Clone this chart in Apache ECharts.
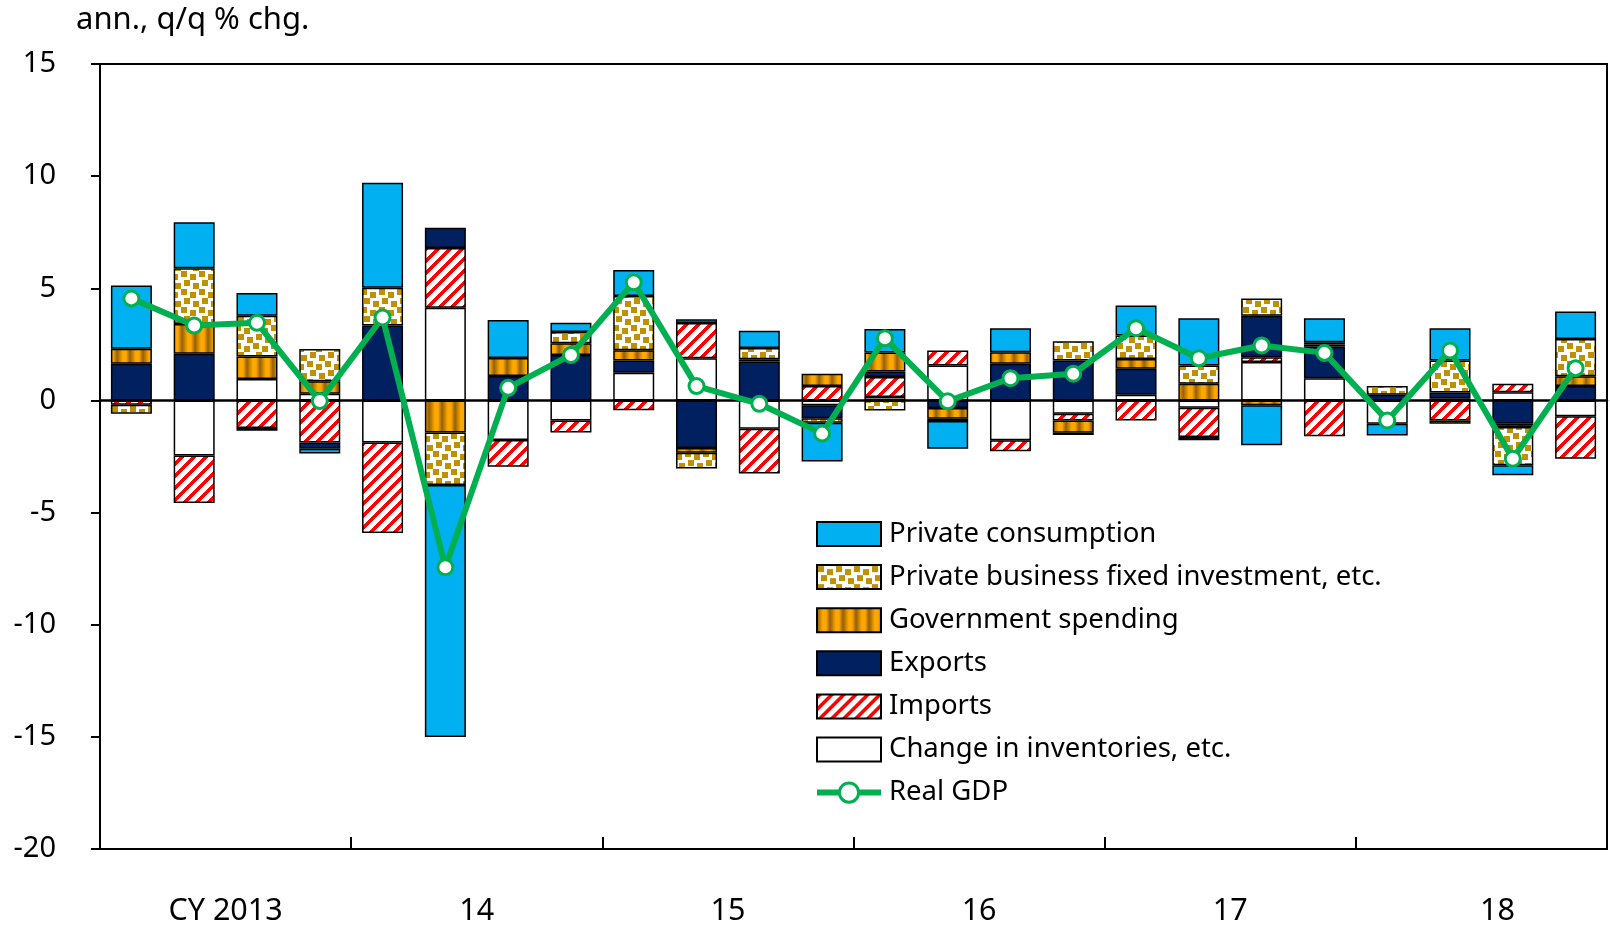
<!DOCTYPE html>
<html>
<head>
    <meta charset="utf-8">
    <title>Real GDP contributions</title>
    <script src="https://cdn.jsdelivr.net/npm/echarts@6/dist/echarts.min.js"></script>
    <style>
        html, body { margin: 0; padding: 0; background: #fff; }
    </style>
</head>
<body>
    <div id="main" style="width: 1610px;height:927px;"></div>
    <script type="text/javascript">
        // quarters, CY2013 Q1 .. CY2018 Q4
        var quarters = ['13Q1', '13Q2', '13Q3', '13Q4', '14Q1', '14Q2', '14Q3', '14Q4',
            '15Q1', '15Q2', '15Q3', '15Q4', '16Q1', '16Q2', '16Q3', '16Q4',
            '17Q1', '17Q2', '17Q3', '17Q4', '18Q1', '18Q2', '18Q3', '18Q4'];
        var yearLabels = ['CY 2013', '14', '15', '16', '17', '18'];

        // contributions, % points (annualized q/q)
        var inventories = [0, -2.45, 0.96, 0.3, -1.88, 4.13, -1.76, -0.89, 1.23, 1.88, -1.26, -0.22,
            0.15, 1.56, -1.78, -0.59, 0.25, -0.33, 1.71, 0.99, -1.04, 0.1, 0.37, -0.7];
        var imports = [-0.19, -2.12, -1.23, -1.88, -4.03, 2.67, -1.2, -0.54, -0.44, 1.57, -2.0, 0.64,
            0.89, 0.67, -0.49, -0.3, -0.89, -1.3, 0.22, -1.6, 0, -0.89, 0.37, -1.9];
        var exportsData = [1.63, 2.08, -0.12, -0.27, 3.34, 0.9, 1.09, 2.03, 0.55, -2.12, 1.74, -0.57,
            0.25, -0.34, 1.63, 1.78, 1.16, -0.15, 1.85, 1.4, 0.25, 0.25, -1.04, 0.64];
        var government = [0.67, 1.33, 1.0, 0.55, 0, -1.43, 0.8, 0.52, 0.46, -0.21, 0.1, 0.55,
            0.85, -0.48, 0.52, -0.55, 0.44, 0.74, -0.22, 0.1, 0, -0.15, -0.15, 0.44];
        var fixedInvestment = [-0.4, 2.48, 1.82, 1.44, 1.68, -2.34, 0, 0.5, 2.42, -0.71, 0.5, -0.2,
            -0.45, -0.1, 0, 0.86, 1.04, 0.82, 0.77, 0.1, 0.39, 1.43, -1.7, 1.66];
        var consumption = [2.82, 2.05, 1.01, -0.22, 4.69, -11.24, 1.7, 0.41, 1.15, 0.17, 0.77, -1.73,
            1.05, -1.23, 1.07, -0.1, 1.34, 2.1, -1.78, 1.07, -0.52, 1.44, -0.45, 1.22];
        var realGDP = [4.55, 3.34, 3.46, -0.03, 3.70, -7.44, 0.56, 2.03, 5.27, 0.64, -0.15, -1.48,
            2.77, -0.04, 0.99, 1.19, 3.22, 1.88, 2.45, 2.12, -0.89, 2.23, -2.6, 1.44];

        // fill patterns
        function stripePattern() {
            var c = document.createElement('canvas');
            c.width = 12; c.height = 12;
            var ctx = c.getContext('2d');
            ctx.fillStyle = '#fff';
            ctx.fillRect(0, 0, 12, 12);
            ctx.fillStyle = '#ff0000';
            for (var x = 0; x < 12; x++) {
                for (var y = 0; y < 12; y++) {
                    if ((x + y) % 12 < 5) ctx.fillRect(x, y, 1, 1);
                }
            }
            return { image: c, repeat: 'repeat' };
        }
        function dotPattern() {
            var n = 18;
            var c = document.createElement('canvas');
            c.width = n; c.height = n;
            var ctx = c.getContext('2d');
            ctx.fillStyle = '#fff';
            ctx.fillRect(0, 0, n, n);
            ctx.fillStyle = '#bf9000';
            // squares, wrapped around the tile edges
            [[1, 1], [10, 4], [4, 10], [13, 13]].forEach(function (p) {
                for (var dx = -n; dx <= 0; dx += n) {
                    for (var dy = -n; dy <= 0; dy += n) {
                        ctx.fillRect(p[0] + dx + n, p[1] + dy + n, 6, 6);
                        ctx.fillRect(p[0] + dx, p[1] + dy, 6, 6);
                    }
                }
            });
            return { image: c, repeat: 'repeat' };
        }
        function barrelPattern() {
            var c = document.createElement('canvas');
            c.width = 13; c.height = 4;
            var ctx = c.getContext('2d');
            var g = ctx.createLinearGradient(0, 0, 13, 0);
            g.addColorStop(0, '#946000');
            g.addColorStop(0.45, '#ffaa00');
            g.addColorStop(0.7, '#ffa500');
            g.addColorStop(1, '#946000');
            ctx.fillStyle = g;
            ctx.fillRect(0, 0, 13, 4);
            return { image: c, repeat: 'repeat' };
        }

        function clean(arr) {
            return arr.map(function (v) { return v === 0 ? null : v; });
        }

        var chartDom = document.getElementById('main');
        var myChart = echarts.init(chartDom);
        var option;

        var font = 'Noto Sans';

        function barSeries(name, data, color) {
            return {
                name: name,
                type: 'bar',
                stack: 'total',
                barWidth: 41,
                data: clean(data),
                itemStyle: {
                    color: color,
                    borderColor: '#000',
                    borderWidth: 1.5
                },
                emphasis: { disabled: true },
                animation: false
            };
        }

        option = {
            animation: false,
            backgroundColor: '#fff',
            title: {
                text: 'ann., q/q % chg.',
                left: 71,
                top: 0,
                textStyle: { fontFamily: font, fontSize: 31, fontWeight: 'normal', color: '#000' }
            },
            legend: {
                orient: 'vertical',
                left: 814,
                top: 520,
                padding: 0,
                itemWidth: 64,
                itemHeight: 24,
                itemGap: 15.1,
                selectedMode: false,
                textStyle: { fontFamily: font, fontSize: 27.5, color: '#000', lineHeight: 24, padding: [0, 0, 0, 3] },
                data: [
                    { name: 'Private consumption', icon: 'rect' },
                    { name: 'Private business fixed investment, etc.', icon: 'rect' },
                    { name: 'Government spending', icon: 'rect' },
                    { name: 'Exports', icon: 'rect' },
                    { name: 'Imports', icon: 'rect' },
                    { name: 'Change in inventories, etc.', icon: 'rect' },
                    { name: 'Real GDP', lineStyle: { width: 6 }, itemStyle: { borderWidth: 3 } }
                ]
            },
            grid: {
                left: 100,
                right: 3,
                top: 64,
                bottom: 77,
                show: true,
                borderColor: '#000',
                borderWidth: 2,
                containLabel: false
            },
            xAxis: [{
                type: 'category',
                data: quarters,
                axisLine: { onZero: true, lineStyle: { color: '#000', width: 2.5 } },
                axisTick: { show: false },
                axisLabel: { show: false }
            }, {
                type: 'category',
                data: yearLabels.map(function (y, i) {
                    return i === yearLabels.length - 1 ? { value: y, textStyle: { padding: [0, 0, 0, 32] } } : y;
                }),
                position: 'bottom',
                axisLine: { onZero: false, lineStyle: { color: '#000', width: 2 } },
                axisTick: { show: true, inside: true, length: 12, interval: 0, lineStyle: { color: '#000', width: 2 } },
                axisLabel: { fontFamily: font, fontSize: 30.5, color: '#000', margin: 47, interval: 0 },
                splitLine: { show: false }
            }],
            yAxis: {
                type: 'value',
                min: -20,
                max: 15,
                interval: 5,
                axisLine: { show: true, lineStyle: { color: '#000', width: 2 } },
                axisTick: { show: true, length: 9, lineStyle: { color: '#000', width: 2 } },
                axisLabel: { fontFamily: font, fontSize: 29, color: '#000', margin: 44 },
                splitLine: { show: false }
            },
            series: [
                barSeries('Change in inventories, etc.', inventories, '#ffffff'),
                barSeries('Imports', imports, stripePattern()),
                barSeries('Exports', exportsData, '#002060'),
                barSeries('Government spending', government, barrelPattern()),
                barSeries('Private business fixed investment, etc.', fixedInvestment, dotPattern()),
                barSeries('Private consumption', consumption, '#00b0f0'),
                {
                    name: 'Real GDP',
                    type: 'line',
                    data: realGDP,
                    symbol: 'circle',
                    symbolSize: 15,
                    showAllSymbol: true,
                    color: '#00b050',
                    lineStyle: { color: '#00b050', width: 6 },
                    itemStyle: { color: '#ffffff', borderColor: '#00b050', borderWidth: 3 },
                    emphasis: { disabled: true },
                    z: 5
                }
            ]
        };

        option && myChart.setOption(option);
    </script>
</body>
</html>
